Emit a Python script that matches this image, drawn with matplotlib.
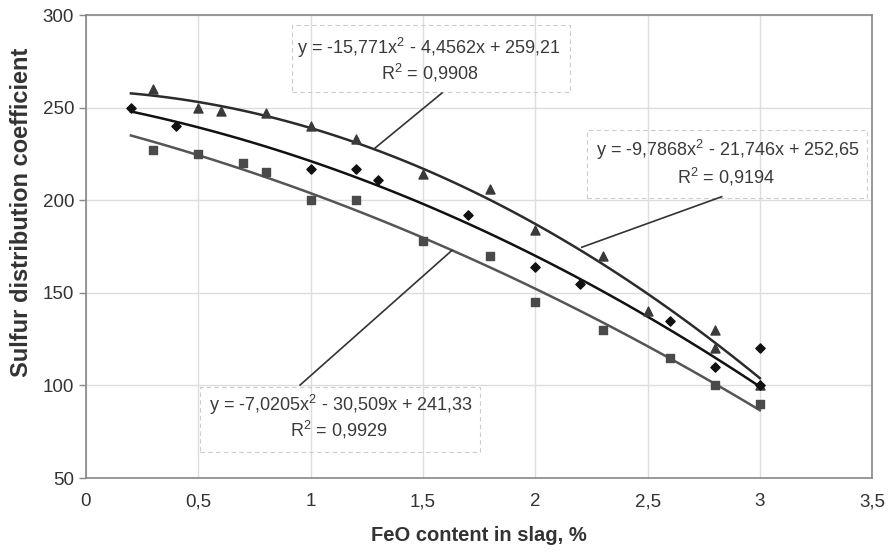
import numpy as np
import matplotlib.pyplot as plt
from matplotlib.patches import Rectangle

plt.rcParams['font.family'] = ['Liberation Sans', 'DejaVu Sans']
plt.rcParams['mathtext.fontset'] = 'custom'
plt.rcParams['mathtext.rm'] = 'Liberation Sans'
plt.rcParams['mathtext.default'] = 'regular'

top_x = [0.3, 0.5, 0.6, 0.8, 1.0, 1.2, 1.5, 1.8, 2.0, 2.3, 2.5, 2.8, 2.8, 3.0]
top_y = [260, 250, 248, 247, 240, 233, 214, 206, 184, 170, 140, 130, 120, 100]
mid_x = [0.2, 0.4, 1.0, 1.2, 1.3, 1.7, 2.0, 2.2, 2.6, 2.8, 3.0, 3.0]
mid_y = [250, 240, 217, 217, 211, 192, 164, 155, 135, 110, 120, 100]
bot_x = [0.3, 0.5, 0.7, 0.8, 1.0, 1.2, 1.5, 1.8, 2.0, 2.3, 2.6, 2.8, 3.0]
bot_y = [227, 225, 220, 215, 200, 200, 178, 170, 145, 130, 115, 100, 90]

# trend line coefficients as printed on the chart
top_coef = [-15.771, -4.4562, 259.21]
mid_coef = [-9.7868, -21.746, 252.65]
bot_coef = [-7.0205, -30.509, 241.33]
top_eq = "y = -15,771x$^{2}$ - 4,4562x + 259,21"
mid_eq = "y = -9,7868x$^{2}$ - 21,746x + 252,65"
bot_eq = "y = -7,0205x$^{2}$ - 30,509x + 241,33"
top_r2 = "R$^{2}$ = 0,9908"
mid_r2 = "R$^{2}$ = 0,9194"
bot_r2 = "R$^{2}$ = 0,9929"

x_ticks = [0, 0.5, 1, 1.5, 2, 2.5, 3, 3.5]
x_labels = ["0", "0,5", "1", "1,5", "2", "2,5", "3", "3,5"]
y_ticks = [50, 100, 150, 200, 250, 300]

fig = plt.figure(figsize=(8.9, 5.52), dpi=100)
ax = fig.add_axes([0.0966, 0.134, 0.8834, 0.8388])

xs = np.linspace(0.2, 3.0, 100)
ax.plot(xs, np.polyval(top_coef, xs), color='#2b2b2b', lw=1.8, zorder=3)
ax.plot(xs, np.polyval(mid_coef, xs), color='#111111', lw=1.8, zorder=3)
ax.plot(xs, np.polyval(bot_coef, xs), color='#555555', lw=1.8, zorder=3)

ax.scatter(top_x, top_y, marker='^', s=42, color='#3a3a3a', zorder=4)
ax.scatter(mid_x, mid_y, marker='D', s=22, color='#111111', zorder=4)
ax.scatter(bot_x, bot_y, marker='s', s=36, color='#4a4a4a', zorder=4)

# equation labels with dashed frames and leader lines
labels = [
    (top_eq, top_r2, (1.526, 282.3), (1.532, 268.5), (0.916, 258.6, 1.239, 36.0),
     (1.585, 257.9), (1.287, 228.2)),
    (mid_eq, mid_r2, (2.857, 227.1), (2.849, 212.7), (2.231, 201.2, 1.247, 36.7),
     (2.83, 201.9), (2.207, 174.6)),
    (bot_eq, bot_r2, (1.135, 89.4), (1.127, 75.9), (0.508, 64.2, 1.246, 35.1),
     (0.953, 100.2), (1.63, 173.0)),
]
for eq, r2, p1, p2, box, l1, l2 in labels:
    ax.text(p1[0], p1[1], eq, ha='center', va='center', fontsize=13,
            color='#3a3a3a', zorder=5)
    ax.text(p2[0], p2[1], r2, ha='center', va='center', fontsize=13,
            color='#3a3a3a', zorder=5)
    ax.add_patch(Rectangle((box[0], box[1]), box[2], box[3], fill=False,
                           ls=(0, (4, 3)), lw=0.8, ec='#cccccc', zorder=2))
    ax.plot([l1[0], l2[0]], [l1[1], l2[1]], color='#333333', lw=1.2, zorder=3)

ax.set_xlim(0, 3.5)
ax.set_ylim(50, 300)
ax.set_xticks(x_ticks)
ax.set_xticklabels(x_labels)
ax.set_yticks(y_ticks)
ax.tick_params(labelsize=13.5, colors='#888888', labelcolor='#333333',
               length=5, width=1)
ax.tick_params(axis='x', length=0, pad=11)
ax.grid(True, color='#dddddd', lw=1)
ax.set_axisbelow(True)
for s in ax.spines.values():
    s.set_color('#888888')
    s.set_linewidth(1.2)

ax.set_xlabel("FeO content in slag, %", fontsize=14.5, fontweight='bold',
              color='#333333', labelpad=11)
ax.set_ylabel("Sulfur distribution coefficient", fontsize=17,
              fontweight='bold', color='#333333')
ax.yaxis.set_label_coords(-0.068, 0.573)

fig.savefig('out.png', dpi=100)
